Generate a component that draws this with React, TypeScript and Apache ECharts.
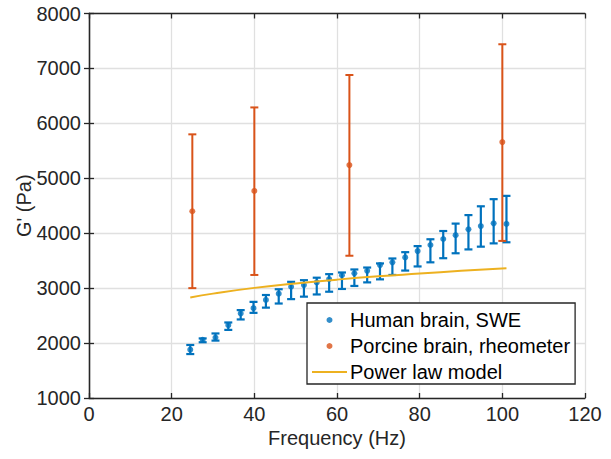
import React, { useEffect, useRef } from "react";
import * as echarts from "echarts";

// Human brain, SWE (frequency Hz, mean G', lower bar, upper bar)
const blueFreq = [24.5, 27.5, 30.6, 33.7, 36.7, 39.8, 42.8, 45.9, 48.9, 52.0, 55.1, 58.1, 61.2, 64.2, 67.3, 70.4, 73.4, 76.5, 79.5, 82.6, 85.7, 88.7, 91.8, 94.8, 97.9, 101.0];
const blueMean = [1880, 2060, 2100, 2325, 2540, 2635, 2785, 2900, 3025, 3055, 3105, 3165, 3235, 3270, 3315, 3420, 3470, 3560, 3675, 3785, 3895, 3965, 4070, 4130, 4180, 4170];
const blueLow = [1800, 2015, 2045, 2240, 2430, 2550, 2645, 2720, 2800, 2845, 2885, 2935, 2985, 3040, 3105, 3160, 3240, 3320, 3395, 3470, 3545, 3635, 3705, 3755, 3815, 3835];
const blueHigh = [1965, 2085, 2175, 2375, 2600, 2750, 2875, 2980, 3115, 3145, 3190, 3255, 3285, 3340, 3375, 3450, 3540, 3655, 3765, 3890, 4040, 4175, 4330, 4490, 4620, 4680];

// Porcine brain, rheometer
const redFreq = [25, 40, 63, 100];
const redMean = [4400, 4770, 5240, 5660];
const redLow = [3000, 3240, 3590, 3860];
const redHigh = [5800, 6290, 6880, 7440];

// Power law model
const powFreq = [24.5, 30, 40, 50, 60, 70, 80, 90, 101];
const powVal = [2830, 2900, 3005, 3085, 3155, 3215, 3265, 3315, 3360];

const xTicks = { min: 0, max: 120, interval: 20 };
const yTicks = { min: 1000, max: 8000, interval: 1000 };

const BLUE = "#0072BD";
const RED = "#D95319";
const YELLOW = "#EDB120";
const AXIS = "#262626";
const FONT = "'Liberation Sans', Arial, Helvetica, sans-serif";
const FS = 20;

function errorBarRender(color: string, width: number) {
  return (params: any, api: any) => {
    const x = api.value(0);
    const lo = api.value(2);
    const hi = api.value(3);
    const pLo = api.coord([x, lo]);
    const pHi = api.coord([x, hi]);
    const hw = 4;
    const style = { stroke: color, lineWidth: width };
    return {
      type: "group",
      children: [
        { type: "line", shape: { x1: pLo[0], y1: pLo[1], x2: pHi[0], y2: pHi[1] }, style },
        { type: "line", shape: { x1: pLo[0] - hw, y1: pLo[1], x2: pLo[0] + hw, y2: pLo[1] }, style },
        { type: "line", shape: { x1: pHi[0] - hw, y1: pHi[1], x2: pHi[0] + hw, y2: pHi[1] }, style },
      ],
    };
  };
}

export default function App() {
  const ref = useRef<HTMLDivElement>(null);
  useEffect(() => {
    document.body.style.margin = "0";
    const chart = echarts.init(ref.current!, null, { renderer: "svg" });
    const blueBars = blueFreq.map((f, i) => [f, blueMean[i], blueLow[i], blueHigh[i]]);
    const redBars = redFreq.map((f, i) => [f, redMean[i], redLow[i], redHigh[i]]);
    const axisCommon = {
      axisLine: { show: true, lineStyle: { color: AXIS, width: 1.3 } },
      axisTick: { show: true, inside: true, length: 5, lineStyle: { color: AXIS, width: 1.3 } },
    };
    chart.setOption({
      animation: false,
      backgroundColor: "#fff",
      textStyle: { fontFamily: FONT },
      grid: { left: 89, right: 26, top: 13.5, bottom: 61, containLabel: false, outerBoundsMode: "none" },
      xAxis: [
        {
          type: "value",
          ...xTicks,
          position: "bottom",
          name: "Frequency (Hz)",
          nameLocation: "middle",
          nameGap: 30,
          nameMoveOverlap: false,
          nameTextStyle: { color: AXIS, fontSize: FS, fontFamily: FONT },
          ...axisCommon,
          axisLabel: { color: AXIS, fontSize: FS, margin: 6, fontFamily: FONT, formatter: (v: number) => String(v) },
          splitLine: { show: true, lineStyle: { color: "#e0e0e0", width: 1.3 } },
        },
        {
          type: "value",
          ...xTicks,
          position: "top",
          ...axisCommon,
          axisLabel: { show: false },
          splitLine: { show: false },
        },
      ],
      yAxis: [
        {
          type: "value",
          ...yTicks,
          position: "left",
          name: "G' (Pa)",
          nameLocation: "middle",
          nameGap: 55,
          nameMoveOverlap: false,
          nameTextStyle: { color: AXIS, fontSize: FS, fontFamily: FONT },
          ...axisCommon,
          axisLabel: { color: AXIS, fontSize: FS, margin: 8, fontFamily: FONT, formatter: (v: number) => String(v) },
          splitLine: { show: true, lineStyle: { color: "#e0e0e0", width: 1.3 } },
        },
        {
          type: "value",
          ...yTicks,
          position: "right",
          ...axisCommon,
          axisLabel: { show: false },
          splitLine: { show: false },
        },
      ],
      legend: {
        orient: "vertical",
        left: 307,
        top: 303,
        itemWidth: 35,
        itemHeight: 6,
        itemGap: 6,
        padding: [7, 5, 2, 5],
        selectedMode: false,
        borderColor: AXIS,
        borderWidth: 1.3,
        borderRadius: 0,
        backgroundColor: "#fff",
        textStyle: { color: "#000", fontSize: FS, fontFamily: FONT, padding: [0, 0, 0, -2] },
        data: [
          { name: "Human brain, SWE", icon: "circle" },
          { name: "Porcine brain, rheometer", icon: "circle" },
          { name: "Power law model", icon: "path://M0,0H35V2H0Z" },
        ],
      },
      series: [
        {
          name: "blueErr",
          type: "custom",
          renderItem: errorBarRender(BLUE, 2.2),
          encode: { x: 0, y: [2, 3] },
          data: blueBars,
          z: 2,
        },
        {
          name: "Human brain, SWE",
          type: "scatter",
          symbol: "circle",
          symbolSize: 6,
          itemStyle: { color: BLUE },
          data: blueFreq.map((f, i) => [f, blueMean[i]]),
          z: 3,
        },
        {
          name: "redErr",
          type: "custom",
          renderItem: errorBarRender(RED, 2),
          encode: { x: 0, y: [2, 3] },
          data: redBars,
          z: 4,
        },
        {
          name: "Porcine brain, rheometer",
          type: "scatter",
          symbol: "circle",
          symbolSize: 6,
          itemStyle: { color: RED },
          data: redFreq.map((f, i) => [f, redMean[i]]),
          z: 5,
        },
        {
          name: "Power law model",
          type: "line",
          symbol: "none",
          smooth: true,
          lineStyle: { color: YELLOW, width: 2 },
          itemStyle: { color: YELLOW },
          data: powFreq.map((f, i) => [f, powVal[i]]),
          z: 6,
        },
      ],
    });
    return () => chart.dispose();
  }, []);
  return <div ref={ref} style={{ width: 611, height: 459 }} />;
}
